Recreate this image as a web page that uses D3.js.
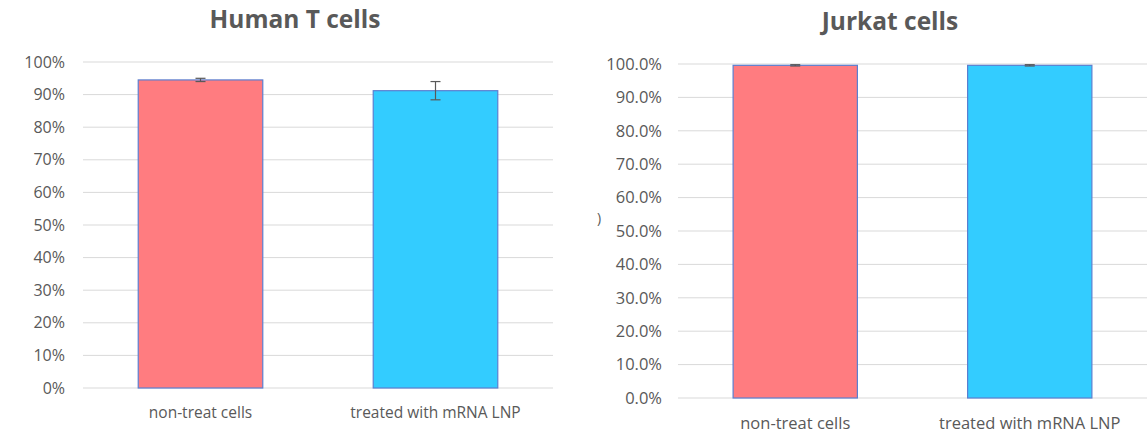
<!DOCTYPE html>
<html><head><meta charset="utf-8">
<script src="https://cdn.jsdelivr.net/npm/d3@7"></script>
<style>
body{margin:0;background:#fff;}
text{font-family:"Open Sans",Lato,sans-serif;}
</style></head>
<body>
<svg id="c" width="1147" height="434"></svg>
<script>
const categories = ["non-treat cells", "treated with mRNA LNP"];
const humanValues = [0.945, 0.912];
const humanErrors = [0.005, 0.028];
const jurkatValues = [0.996, 0.996];
const jurkatErrors = [0.002, 0.002];
const humanTicks = [0,0.1,0.2,0.3,0.4,0.5,0.6,0.7,0.8,0.9,1.0];
const jurkatTicks = [0,0.1,0.2,0.3,0.4,0.5,0.6,0.7,0.8,0.9,1.0];
const colors = ["#FF7C80", "#33CCFF"];

const svg = d3.select("#c");

function panel(opts){
  const g = svg.append("g");
  const x = d3.scaleBand().domain(categories).range([opts.x0, opts.x1]).paddingInner(0.47).paddingOuter(0.235);
  const y = d3.scaleLinear().domain([0,1]).range([opts.y0, opts.y1]);
  g.selectAll("line.grid").data(opts.ticks).enter().append("line")
    .attr("x1", opts.x0).attr("x2", opts.x1)
    .attr("y1", d=>y(d)).attr("y2", d=>y(d))
    .attr("stroke", "#D9D9D9").attr("stroke-width", 1);
  g.selectAll("text.yl").data(opts.ticks).enter().append("text")
    .attr("x", opts.labelX).attr("y", d=>y(d)).attr("dy", "0.35em")
    .attr("text-anchor", "end").attr("fill", "#595959").attr("font-size", opts.yFont)
    .text(d=>d3.format(opts.fmt)(d));
  g.selectAll("rect.bar").data(opts.values).enter().append("rect")
    .attr("x", (d,i)=>x(categories[i])).attr("width", x.bandwidth())
    .attr("y", d=>y(d)).attr("height", d=>y(0)-y(d))
    .attr("fill", (d,i)=>colors[i]).attr("stroke", "#5B7FD0").attr("stroke-width", 1.2);
  opts.values.forEach((v,i)=>{
    const cx = x(categories[i]) + x.bandwidth()/2;
    const e = opts.errors[i];
    g.append("line").attr("x1", cx).attr("x2", cx).attr("y1", y(v+e)).attr("y2", y(v-e))
      .attr("stroke", "#595959").attr("stroke-width", 1.2);
    [v+e, v-e].forEach(t=>{
      g.append("line").attr("x1", cx-5).attr("x2", cx+5).attr("y1", y(t)).attr("y2", y(t))
        .attr("stroke", "#595959").attr("stroke-width", 1.2);
    });
  });
  g.selectAll("text.xl").data(categories).enter().append("text")
    .attr("x", d=>x(d)+x.bandwidth()/2).attr("y", opts.xLabelY).attr("dy", "0.35em")
    .attr("text-anchor", "middle").attr("fill", "#595959").attr("font-size", opts.xFont)
    .text(d=>d);
  g.append("text").attr("x", opts.titleX).attr("y", opts.titleY)
    .attr("text-anchor", "middle").attr("fill", "#595959")
    .attr("font-size", opts.titleFont).attr("font-weight", "bold").text(opts.title);
}

panel({title:"Human T cells", titleX:295, titleY:28, titleFont:24.5, x0:83, x1:553, y0:388, y1:62,
  labelX:65, yFont:16, fmt:".0%", ticks:humanTicks, values:humanValues, errors:humanErrors, xLabelY:413, xFont:15.5});
panel({title:"Jurkat cells", titleX:890, titleY:30, titleFont:24.5, x0:678, x1:1147, y0:398, y1:64,
  labelX:662, yFont:16.5, fmt:".1%", ticks:jurkatTicks, values:jurkatValues, errors:jurkatErrors, xLabelY:423, xFont:16.5});

svg.append("text").attr("x", 597).attr("y", 223).attr("fill", "#595959")
  .attr("font-size", 14).text(")");
</script>
</body></html>
